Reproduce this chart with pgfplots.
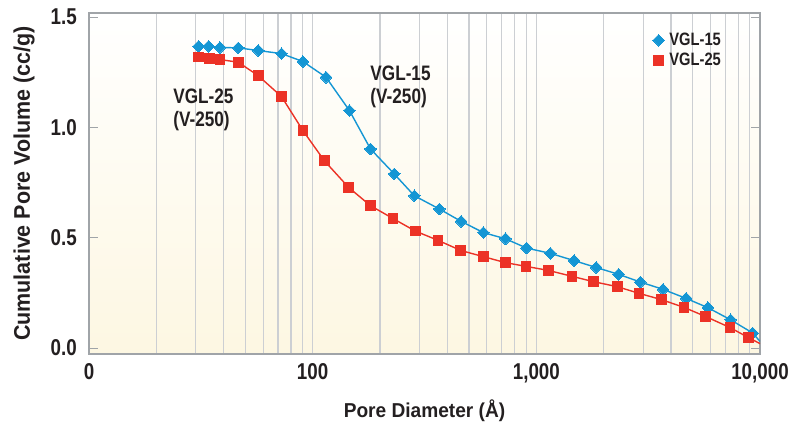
\documentclass[border=0pt]{standalone}
\usepackage{pgfplots}
\pgfplotsset{compat=1.18}
\usepackage{pgfplotstable}
\usepackage{fontspec}
\setmainfont{Liberation Sans}[FakeStretch=0.82]
\newfontfamily\labfont{Liberation Sans}[FakeStretch=0.95]

\definecolor{vglblue}{RGB}{20,150,212}
\definecolor{vglred}{RGB}{236,50,38}
\definecolor{axgray}{RGB}{160,164,168}
\definecolor{gridgray}{RGB}{204,207,211}
\definecolor{txt}{RGB}{35,31,32}
\definecolor{cream}{RGB}{253,247,226}

% pore diameter (A) vs cumulative pore volume (cc/g), last row = line tail
\pgfplotstableread{
d v
30.9 1.367
34.3 1.367
38.5 1.362
46.5 1.360
57.1 1.348
72.6 1.334
90.5 1.298
114.7 1.227
146 1.076
181.4 0.902
231.5 0.789
284.7 0.690
368.5 0.630
461 0.574
580 0.523
728 0.495
904.5 0.453
1156 0.429
1476 0.396
1852 0.365
2332 0.334
2917 0.299
3685 0.266
4672 0.225
5846 0.183
7388 0.128
9276 0.068
10000 0.030
}\vglfifteen

\pgfplotstableread{
d v
30.9 1.319
34.6 1.311
38.5 1.307
46.5 1.295
57.1 1.234
72.6 1.139
90.5 0.985
112.9 0.848
145 0.727
181.4 0.645
228.4 0.587
287.6 0.530
363.5 0.488
459.5 0.442
580 0.414
727 0.387
899 0.370
1129 0.352
1445 0.325
1796 0.301
2301 0.278
2875 0.248
3636 0.219
4576 0.184
5708 0.143
7336 0.093
8892 0.047
10000 0.020
}\vgltwentyfive

\begin{document}
\begin{tikzpicture}
  \useasboundingbox (-89bp,-69bp) rectangle (704bp,354bp);
  \begin{axis}[
    scale only axis,
    width=671bp, height=341bp,
    xmode=log,
    xmin=10, xmax=10000,
    ymin=-0.027, ymax=1.518,
    xtick={10,100,1000,10000},
    xticklabels={0,100,{1,000},{10,000}},
    ytick={0,0.5,1,1.5},
    yticklabels={0.0,0.5,1.0,1.5},
    xmajorgrids, xminorgrids,
    major grid style={draw=gridgray, line width=1.1bp},
    minor grid style={draw=gridgray, line width=1.1bp},
    xtick style={draw=none},
    tick align=inside,
    ytick style={draw=axgray, line width=0.8bp},
    major tick length=9bp,
    axis line style={draw=axgray, line width=1.8bp},
    axis background/.style={shade, top color=white, middle color=white, bottom color=cream},
    tick label style={text=txt, font=\fontsize{23}{23}\selectfont\bfseries},
    xticklabel style={anchor=north, inner sep=0pt, yshift=-9bp},
    yticklabel style={anchor=east, inner sep=0pt, xshift=-12bp},
    xlabel={Pore Diameter (Å)},
    ylabel={Cumulative Pore Volume (cc/g)},
    label style={text=txt, font=\labfont\fontsize{20.2}{22}\selectfont\bfseries},
    xlabel style={at={(axis description cs:0.5,-0.167)}, anchor=center},
    ylabel style={at={(axis description cs:-0.0969,0.5)}, anchor=center, font=\labfont\fontsize{22.7}{24}\selectfont\bfseries},
    legend cell align=left,
    legend image code/.code={\draw[#1] plot coordinates {(0.1cm,0cm)};},
    legend style={at={(axis description cs:0.840,0.947)}, anchor=north west,
      draw=none, fill=none, inner sep=0pt, row sep=2bp, column sep=3bp,
      font=\fontsize{18}{18}\selectfont\bfseries, text=txt},
  ]
    \addplot[vglblue, line width=1.4bp, line join=round, forget plot] table {\vglfifteen};
    \addplot[vglred, line width=1.4bp, line join=round, forget plot] table {\vgltwentyfive};
    \addplot[only marks, mark=square*, mark size=4.1bp,
      mark options={rotate=45, fill=vglblue, draw=vglblue, line width=0pt},
      skip coords between index={27}{28}] table {\vglfifteen};
    \addlegendentry{VGL-15}
    \addplot[only marks, mark=square*, mark size=4.9bp,
      mark options={fill=vglred, draw=vglred, line width=0pt},
      skip coords between index={27}{28}] table {\vgltwentyfive};
    \addlegendentry{VGL-25}
    \node[anchor=west, align=left, inner sep=0pt, text=txt,
      font=\fontsize{21}{23}\selectfont\bfseries] at (axis cs:23.8,1.080) {VGL-25\\(V-250)};
    \node[anchor=west, align=left, inner sep=0pt, text=txt,
      font=\fontsize{21}{23}\selectfont\bfseries] at (axis cs:181,1.185) {VGL-15\\(V-250)};
  \end{axis}
\end{tikzpicture}
\end{document}
